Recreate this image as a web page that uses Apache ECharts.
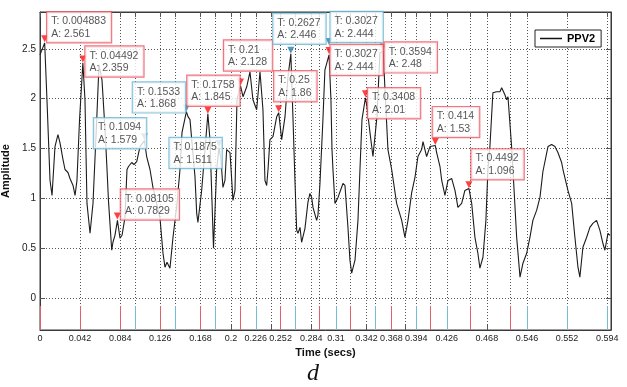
<!DOCTYPE html>
<html>
<head>
<meta charset="utf-8">
<script src="https://cdn.jsdelivr.net/npm/echarts@6/dist/echarts.min.js"></script>
<style>
  html, body { margin: 0; padding: 0; background: #fff; }
  #ppv-chart { width: 627px; height: 387px; }
</style>
</head>
<body>
<div id="ppv-chart"></div>
<script>
// signal PPV2, time (secs) / amplitude
const timeValues = [
  0, 0.0049, 0.0073, 0.0105, 0.0126, 0.0157, 0.0188, 0.0209, 0.0241, 0.0262,
  0.0293, 0.0314, 0.0346, 0.0367, 0.0387, 0.0414, 0.0449, 0.0471, 0.0492, 0.0524,
  0.0555, 0.0594, 0.0618, 0.0649, 0.0681, 0.0702, 0.0717, 0.0751, 0.0764, 0.0785,
  0.0811, 0.0838, 0.0859, 0.089, 0.0911, 0.0927, 0.096, 0.0984, 0.1013, 0.1047,
  0.1094, 0.1117, 0.1152, 0.1183, 0.1257, 0.1288, 0.1309, 0.133, 0.1361, 0.1393,
  0.1435, 0.1466, 0.1487, 0.1533, 0.155, 0.1571, 0.1589, 0.1623, 0.1641, 0.1654,
  0.1693, 0.1728, 0.1758, 0.178, 0.1801, 0.1817, 0.185, 0.1875, 0.1895, 0.1916,
  0.1937, 0.1955, 0.199, 0.2021, 0.2042, 0.2063, 0.21, 0.2126, 0.2165, 0.2199,
  0.223, 0.2269, 0.2304, 0.2335, 0.2356, 0.2374, 0.2388, 0.2408, 0.244, 0.2479,
  0.25, 0.2531, 0.2566, 0.2597, 0.2627, 0.2649, 0.267, 0.2688, 0.2702, 0.2723,
  0.274, 0.2775, 0.2806, 0.2827, 0.2845, 0.2859, 0.2897, 0.2911, 0.2932, 0.2963,
  0.2984, 0.3027, 0.3047, 0.3058, 0.3068, 0.3089, 0.3121, 0.3173, 0.3194, 0.3225,
  0.3246, 0.3264, 0.3299, 0.333, 0.3351, 0.3372, 0.3408, 0.3424, 0.3456, 0.3487,
  0.3529, 0.356, 0.3594, 0.3613, 0.3644, 0.3683, 0.3735, 0.3788, 0.3822, 0.3854,
  0.3893, 0.3927, 0.3958, 0.3997, 0.4011, 0.4049, 0.4084, 0.414, 0.4154, 0.4189,
  0.4207, 0.4241, 0.4273, 0.4311, 0.4346, 0.4377, 0.4416, 0.445, 0.4492, 0.4521,
  0.4555, 0.4586, 0.4607, 0.4639, 0.467, 0.4691, 0.4712, 0.4743, 0.4782, 0.4817,
  0.4835, 0.4848, 0.4869, 0.4887, 0.4901, 0.4939, 0.4953, 0.4992, 0.5027, 0.5058,
  0.5097, 0.5131, 0.5162, 0.5201, 0.5236, 0.5267, 0.532, 0.5358, 0.5393, 0.5424,
  0.5463, 0.5477, 0.5529, 0.5568, 0.5602, 0.5634, 0.5654, 0.5686, 0.5725, 0.5759,
  0.579, 0.5829, 0.5864, 0.5895, 0.5916, 0.5948, 0.5969
];
const ampValues = [
  2.44, 2.56, 1.99, 1.18, 1.03, 1.52, 1.64, 1.56, 1.39, 1.29,
  1.26, 1.20, 1.13, 1.03, 1.18, 1.79, 2.36, 1.99, 0.95, 0.65,
  0.95, 1.79, 2.34, 2.19, 1.69, 1.29, 0.98, 0.48, 0.56, 0.63,
  0.78, 0.60, 0.63, 0.81, 1.29, 1.32, 1.36, 1.34, 1.37, 1.52,
  1.58, 1.42, 1.29, 1.11, 0.80, 0.45, 0.31, 0.36, 0.30, 0.61,
  0.95, 1.29, 1.66, 1.87, 1.82, 1.79, 1.59, 1.22, 0.85, 0.76,
  1.08, 1.49, 1.85, 1.59, 0.98, 0.50, 1.29, 1.51, 1.39, 1.11,
  1.18, 1.49, 1.46, 0.98, 1.08, 1.99, 2.13, 2.02, 2.12, 2.27,
  1.99, 1.89, 2.27, 1.89, 1.18, 1.13, 1.29, 1.59, 1.62, 1.82,
  1.86, 1.59, 1.82, 2.22, 2.45, 1.82, 1.18, 0.68, 0.65, 0.71,
  0.56, 0.70, 0.96, 1.05, 1.01, 0.91, 0.78, 0.83, 1.15, 1.79,
  2.29, 2.44, 1.99, 1.49, 1.29, 0.95, 1.01, 1.15, 1.13, 0.71,
  0.38, 0.25, 0.38, 0.78, 1.29, 1.79, 2.01, 1.92, 1.66, 1.42,
  1.82, 2.46, 2.48, 2.09, 1.49, 1.29, 0.95, 0.78, 0.61, 0.78,
  1.06, 1.21, 1.42, 1.49, 1.57, 1.42, 1.52, 1.53, 1.46, 1.32,
  1.18, 1.03, 1.18, 1.20, 1.08, 0.91, 0.95, 1.08, 1.10, 0.95,
  0.61, 0.45, 0.30, 0.41, 0.78, 1.29, 1.52, 2.06, 2.07, 2.07,
  2.11, 2.09, 2.04, 1.99, 2.02, 1.52, 1.29, 0.61, 0.21, 0.35,
  0.45, 0.61, 0.78, 0.88, 1.01, 1.27, 1.52, 1.54, 1.52, 1.46,
  1.36, 1.29, 1.08, 0.95, 0.61, 0.31, 0.21, 0.51, 0.61, 0.71,
  0.75, 0.78, 0.68, 0.55, 0.48, 0.65, 0.63
];

// data tips
const tipTimes = [0.004883, 0.04492, 0.08105, 0.1094, 0.1533, 0.1758, 0.1875, 0.21, 0.25, 0.2627, 0.3027, 0.3027, 0.3408, 0.3594, 0.414, 0.4492];
const tipAmps = [2.561, 2.359, 0.7829, 1.579, 1.868, 1.845, 1.511, 2.128, 1.86, 2.446, 2.444, 2.444, 2.01, 2.48, 1.53, 1.096];
const tipKinds = ['red', 'red', 'red', 'blue', 'blue', 'red', 'blue', 'red', 'red', 'blue', 'blue', 'red', 'red', 'red', 'red', 'red'];

// x axis ticks (the original labels are kept as printed)
const xLabelTimes = [0, 0.042, 0.084, 0.126, 0.168, 0.2, 0.226, 0.252, 0.284, 0.31, 0.342, 0.368, 0.394, 0.426, 0.468, 0.51, 0.552, 0.594];
const xTickLabels = ['0', '0.042', '0.084', '0.126', '0.168', '0.2', '0.226', '0.252', '0.284', '0.31', '0.342', '0.368', '0.394', '0.426', '0.468', '0.546', '0.552', '0.594'];
const xExtraTicks = [0.0995, 0.1414, 0.1832, 0.2094, 0.2419, 0.267, 0.2921, 0.3246, 0.3508, 0.3822, 0.4084, 0.4503, 0.4921];
const yTickValues = [0, 0.5, 1, 1.5, 2, 2.5];

// event stems under zero
const redStems = [0, 0.042, 0.084, 0.126, 0.168, 0.2094, 0.252, 0.2921, 0.3246, 0.368, 0.4084, 0.4503, 0.4921];
const blueStems = [0.0995, 0.1414, 0.1832, 0.226, 0.267, 0.31, 0.3508, 0.394, 0.426, 0.51, 0.552, 0.594];

// layout of the tip boxes (px from the point), not data
const tipBoxOffsets = [[3, -30], [3, -16], [4, -30], [-50, -22], [-53, -29], [-20, -38], [-49, -9], [-16, -45], [-4, -41], [-17, -40], [2, -42], [2, -9], [3, -9], [2, -8], [-2, -38], [3, -39]];
const tipMarkerLift = [4, 4, 4, 4, 4, 4, 4, 4, 4, 4, 13, 4, 4, 4, 4, 4];

const X_MIN = 0, X_MAX = 0.598, Y_MIN = -0.32, Y_MAX = 2.87;
const FONT = '"Liberation Sans", Arial, sans-serif';
const colors = {
    red: { box: '#ea5560', mark: '#ff1010', stem: '#e2606a' },
    blue: { box: '#6bb4cf', mark: '#2a7da6', stem: '#74bcd4' },
};

const allXTicks = xLabelTimes.concat(xExtraTicks).sort((a, b) => a - b);

const myChart = echarts.init(document.getElementById('ppv-chart'));

const stemLines = [];
redStems.forEach((t) => stemLines.push([{ coord: [t, -0.08], lineStyle: { color: colors.red.stem } }, { coord: [t, Y_MIN] }]));
blueStems.forEach((t) => stemLines.push([{ coord: [t, -0.08], lineStyle: { color: colors.blue.stem } }, { coord: [t, Y_MIN] }]));

function xLabelText(v) {
    const i = xLabelTimes.findIndex((t) => Math.abs(t - v) < 1e-7);
    return i >= 0 ? xTickLabels[i] : '';
}

myChart.setOption({
    animation: false,
    textStyle: { fontFamily: FONT },
    grid: {
        left: 40,
        right: 16,
        top: 12,
        bottom: 57,
        show: true,
        borderColor: '#3a3a3a',
        borderWidth: 1,
        outerBoundsMode: 'none',
    },
    legend: {
        data: [{ name: 'PPV2', icon: 'rect' }],
        left: 535,
        top: 30,
        itemWidth: 22,
        itemHeight: 1.5,
        padding: [3, 6, 3, 5],
        borderColor: '#222',
        borderWidth: 1,
        backgroundColor: '#fff',
        itemStyle: { color: '#111' },
        textStyle: { fontWeight: 'bold', fontSize: 11, color: '#000', fontFamily: FONT },
    },
    xAxis: [
        {
            type: 'value',
            min: X_MIN,
            max: X_MAX,
            name: 'Time (secs)',
            nameLocation: 'middle',
            nameGap: 13,
            nameTextStyle: { fontWeight: 'bold', fontSize: 11, color: '#111', fontFamily: FONT },
            axisLine: { show: true, onZero: false, lineStyle: { color: '#3a3a3a' } },
            axisTick: { show: true, inside: true, length: 5, customValues: allXTicks, lineStyle: { color: '#555' } },
            axisLabel: {
                customValues: xLabelTimes,
                hideOverlap: false,
                margin: 4,
                fontSize: 9,
                color: '#222',
                formatter: xLabelText,
            },
            splitLine: { show: true, lineStyle: { type: [1, 2], color: '#555', width: 1 } },
        },
        {
            type: 'value',
            position: 'top',
            min: X_MIN,
            max: X_MAX,
            axisLine: { show: true, onZero: false, lineStyle: { color: '#3a3a3a' } },
            axisTick: { show: true, inside: true, length: 5, customValues: allXTicks, lineStyle: { color: '#555' } },
            axisLabel: { show: false },
            splitLine: { show: false },
        },
    ],
    yAxis: [
        {
            type: 'value',
            min: Y_MIN,
            max: Y_MAX,
            name: 'Amplitude',
            nameLocation: 'middle',
            nameGap: 20,
            nameTextStyle: { fontWeight: 'bold', fontSize: 11, color: '#111', fontFamily: FONT },
            axisLine: { show: true, onZero: false, lineStyle: { color: '#3a3a3a' } },
            axisTick: { show: true, inside: true, length: 5, customValues: yTickValues, lineStyle: { color: '#555' } },
            axisLabel: { customValues: yTickValues, margin: 4, fontSize: 10, color: '#222' },
            splitLine: { show: true, lineStyle: { type: [1, 2], color: '#555', width: 1 } },
        },
        {
            type: 'value',
            position: 'right',
            min: Y_MIN,
            max: Y_MAX,
            axisLine: { show: true, onZero: false, lineStyle: { color: '#3a3a3a' } },
            axisTick: { show: true, inside: true, length: 5, customValues: yTickValues, lineStyle: { color: '#555' } },
            axisLabel: { show: false },
            splitLine: { show: false },
        },
    ],
    graphic: [
        {
            type: 'text',
            left: 307,
            top: 362,
            style: { text: 'd', font: 'italic 24px "Liberation Serif", serif', fill: '#111' },
        },
    ],
    series: [
        {
            name: 'PPV2',
            type: 'line',
            data: timeValues.map((t, i) => [t, ampValues[i]]),
            symbol: 'none',
            showSymbol: false,
            silent: true,
            lineStyle: { color: '#1c1c1c', width: 1.1 },
            itemStyle: { color: '#1c1c1c' },
            markLine: {
                silent: true,
                symbol: ['none', 'none'],
                label: { show: false },
                lineStyle: { type: 'solid', width: 1 },
                data: stemLines,
            },
            z: 3,
        },
        {
            name: 'tipMarks',
            type: 'scatter',
            silent: true,
            symbol: 'path://M0,0 L10,0 L5,9 Z',
            symbolSize: [7, 7],
            data: tipTimes.map((t, i) => ({
                value: [t, tipAmps[i]],
                symbolOffset: [0, -tipMarkerLift[i]],
                itemStyle: { color: colors[tipKinds[i]].mark },
            })),
            z: 4,
        },
        {
            name: 'tipLabels',
            type: 'scatter',
            silent: true,
            symbol: 'circle',
            symbolSize: 1,
            itemStyle: { color: 'transparent' },
            data: tipTimes.map((t, i) => ({
                value: [t, tipAmps[i]],
                label: {
                    show: true,
                    position: tipBoxOffsets[i],
                    formatter: 'T: ' + String(t) + '\nA: ' + String(tipAmps[i]),
                    fontSize: 10.5,
                    lineHeight: 12.5,
                    color: '#2a2a2a',
                    fontFamily: FONT,
                    backgroundColor: '#fff',
                    borderColor: colors[tipKinds[i]].box,
                    borderWidth: 1.2,
                    padding: [3, 5, 2, 4],
                },
            })),
            z: 5,
        },
    ],
});
</script>
</body>
</html>
